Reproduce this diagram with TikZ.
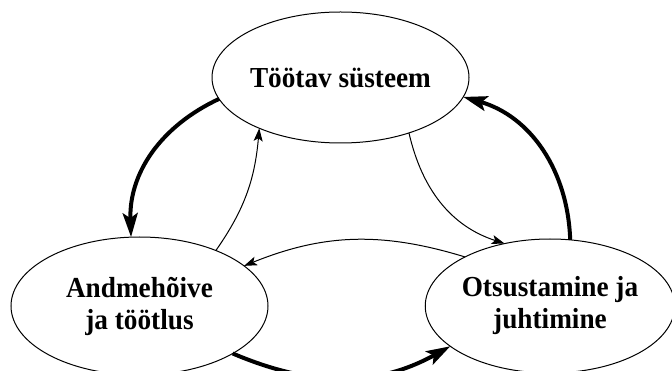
\documentclass[tikz,border=0pt]{standalone}
\usepackage{fontspec}
\setmainfont{Liberation Serif}[FakeStretch=0.94]
\usetikzlibrary{shapes.geometric,arrows.meta}
\tikzset{
  phase/.style={ellipse,draw,line width=1pt,inner sep=0pt,outer sep=0pt,align=center,
    font=\fontsize{29}{32}\selectfont\bfseries},
  weakflow/.style={line width=1pt,-{Stealth[length=13pt,width=9pt,inset=3pt]}},
  strongflow/.style={line width=4pt,-{Stealth[length=24pt,width=15pt,inset=5pt]}}
}
\begin{document}
\begin{tikzpicture}[x=1pt,y=1pt]
\useasboundingbox (0,0) rectangle (672,-371);
\node[phase,minimum width=257pt,minimum height=131pt] (sys) at (340.5,-77.5) {Töötav süsteem};
\node[phase,minimum width=257pt,minimum height=138pt] (data) at (139.5,-306) {Andmehõive\\ja töötlus};
\node[phase,minimum width=246pt,minimum height=134pt] (ctrl) at (550,-306) {Otsustamine ja\\juhtimine};
% outer loop
\draw[strongflow] (sys.190) to[out=205,in=92] (data.97);
\draw[strongflow] (data.-27) to[out=-23,in=209] (ctrl.202);
\draw[strongflow] (ctrl.73) to[out=92,in=-16] (sys.-9);
% inner loop
\draw[weakflow] (data.36) to[out=55,in=265] (sys.212);
\draw[weakflow] (sys.-39) to[out=-77,in=162] (ctrl.126);
\draw[weakflow] (ctrl.150) to[out=163,in=22] (data.21);
\end{tikzpicture}
\end{document}
